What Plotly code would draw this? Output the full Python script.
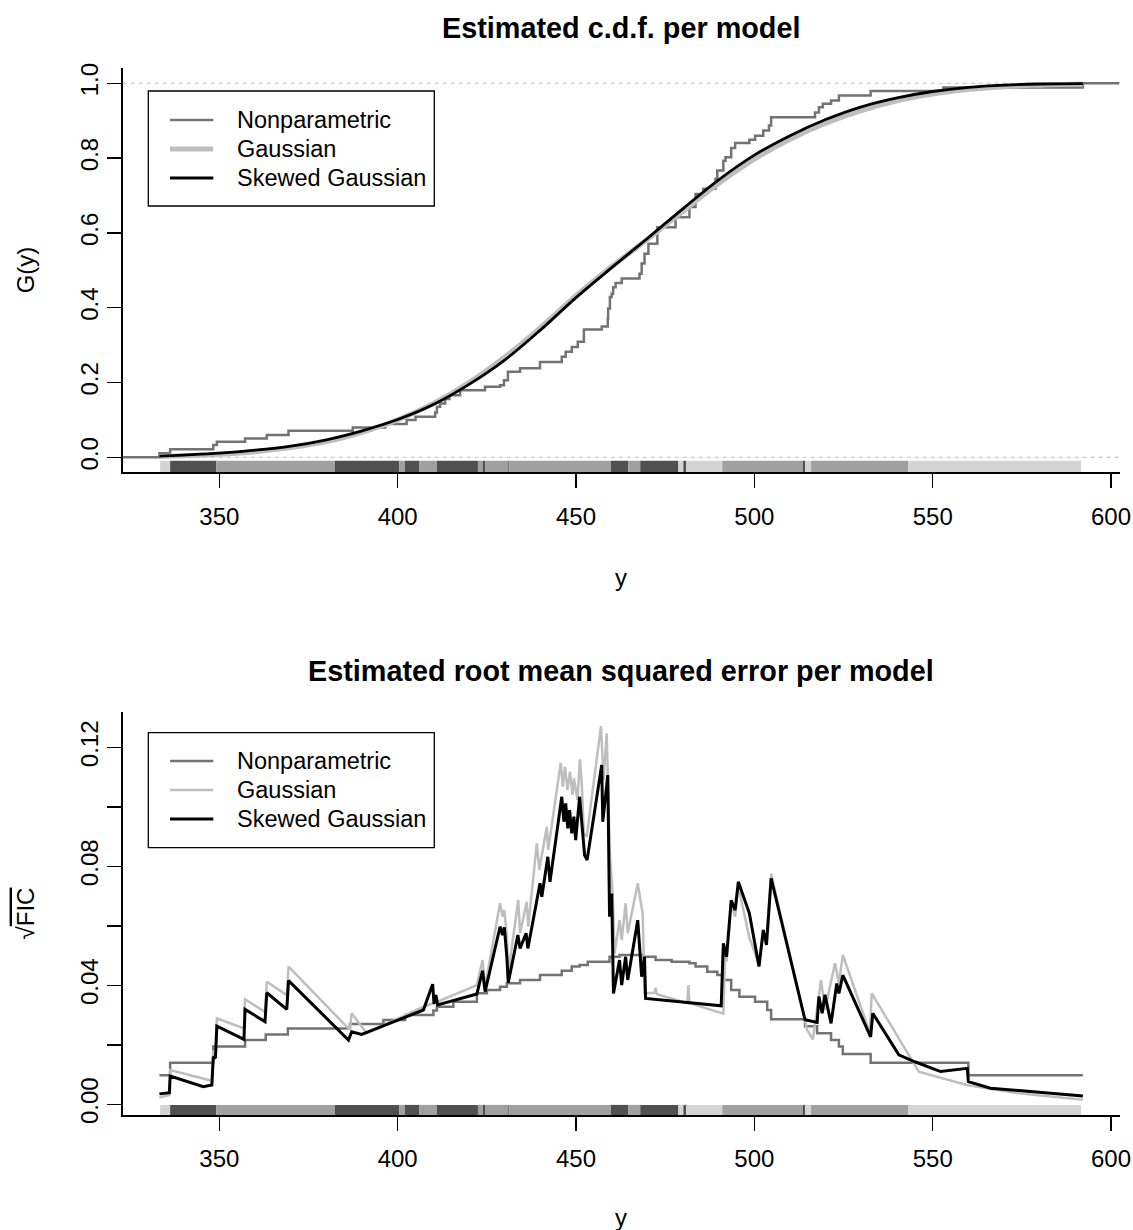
import plotly.graph_objects as go

# ---------------- data ----------------
# Top panel: estimated c.d.f. per model
cdf_y = [333.2, 340, 350, 360, 370, 380, 390, 400, 410, 420, 430, 440, 450, 460,
         470, 480, 490, 500, 510, 520, 530, 540, 550, 560, 570, 580, 592.1]
cdf_skew = [0.003, 0.006, 0.011, 0.019, 0.030, 0.047, 0.071, 0.101, 0.141, 0.195, 0.260,
            0.340, 0.427, 0.507, 0.585, 0.665, 0.742, 0.808, 0.860, 0.903, 0.937, 0.961,
            0.978, 0.989, 0.995, 0.998, 0.999]
cdf_gauss = [0.002, 0.004, 0.008, 0.015, 0.026, 0.042, 0.067, 0.100, 0.144, 0.200, 0.268,
             0.347, 0.432, 0.510, 0.583, 0.658, 0.732, 0.797, 0.850, 0.893, 0.927, 0.953,
             0.971, 0.983, 0.991, 0.995, 0.998]

ecdf_y = [322.9, 333.2, 336.2, 348.3, 349.3, 357.2, 363.3, 369.4, 387.4, 396.5, 402.5,
          405.0, 410.5, 411.0, 411.9, 413.3, 414.5, 417.5, 424.5, 428.7, 429.8, 430.9,
          434.3, 439.9, 446.0, 447.1, 448.8, 450.5, 452.2, 457.2, 458.9, 459.0, 459.5,
          460.0, 460.4, 461.1, 462.8, 467.8, 468.4, 469.2, 470.3, 472.8, 477.9, 481.8,
          483.5, 485.7, 489.1, 489.6, 491.3, 491.9, 493.5, 494.6, 498.6, 500.2, 502.5,
          504.1, 504.7, 517.0, 518.1, 519.2, 521.5, 523.7, 532.6, 553.0, 592.1, 602.4]
ecdf_g = [0.0, 0.0106, 0.0213, 0.0328, 0.0417, 0.0506, 0.0595, 0.0711, 0.0800, 0.0889, 0.0995,
          0.1084, 0.1200, 0.1351, 0.1440, 0.1560, 0.1663, 0.1796, 0.1885, 0.1930, 0.2060, 0.2285,
          0.2380, 0.2550, 0.2690, 0.2820, 0.2950, 0.3090, 0.3420, 0.3500, 0.3710, 0.3976, 0.4287,
          0.4376, 0.4550, 0.4660, 0.4780, 0.4910, 0.5180, 0.5440, 0.5710, 0.6150, 0.6420, 0.6690,
          0.7040, 0.7180, 0.7450, 0.7670, 0.7930, 0.8020, 0.8270, 0.8400, 0.8490, 0.8600, 0.8740,
          0.8870, 0.9090, 0.9220, 0.9360, 0.9450, 0.9540, 0.9670, 0.9790, 0.9890, 1.0, 1.0]

# Bottom panel: sqrt(FIC) per model
np_y = [333.2, 336.2, 348.3, 357.2, 363.0, 369.2, 386.6, 396.0, 402.1, 410.0, 411.0, 415.6,
        422.2, 425.0, 428.7, 430.6, 434.3, 439.9, 446.0, 448.8, 451.0, 453.3, 459.4, 462.2,
        468.9, 472.3, 476.8, 481.8, 483.5, 486.8, 489.6, 491.3, 493.5, 495.8, 500.2, 503.6,
        504.7, 514.2, 517.6, 521.5, 523.7, 524.8, 532.6, 560.0, 592.1]
np_v = [0.0098, 0.0140, 0.0194, 0.0216, 0.0235, 0.0255, 0.0270, 0.0283, 0.0300, 0.0315,
        0.0328, 0.0345, 0.0373, 0.0384, 0.0395, 0.0407, 0.0418, 0.0435, 0.0449, 0.0463,
        0.0468, 0.0479, 0.0496, 0.0502, 0.0496, 0.0485, 0.0479, 0.0474, 0.0463, 0.0446,
        0.0435, 0.0418, 0.0384, 0.0362, 0.0345, 0.0317, 0.0286, 0.0262, 0.0239, 0.0216,
        0.0194, 0.0169, 0.0140, 0.0098, 0.0098]

sk_y = [333.2, 336.0, 336.2, 345.5, 347.9, 348.3, 348.9, 349.3, 356.9, 357.2, 362.8, 363.3,
        368.9, 369.4, 386.2, 387.1, 389.9, 406.3, 407.2, 409.8, 410.2, 410.7, 411.2, 422.2,
        423.8, 424.5, 428.7, 429.4, 429.9, 430.6, 431.0, 433.7, 434.3, 436.0, 436.5, 439.9,
        440.4, 442.1, 442.7, 446.0, 446.6, 447.1, 447.7, 448.2, 448.8, 449.4, 449.9, 451.0,
        451.6, 452.4, 453.1, 457.2, 457.5, 458.9, 459.4, 460.0, 460.5, 462.2, 462.8, 463.9,
        464.5, 467.3, 468.4, 469.2, 469.5, 490.7, 491.3, 492.2, 493.5, 494.6, 495.5, 498.6,
        501.3, 502.5, 503.4, 504.7, 514.2, 517.6, 518.1, 519.0, 519.8, 521.5, 523.1, 523.7,
        524.8, 532.6, 533.2, 540.5, 545.0, 552.2, 559.7, 560.0, 566.2, 592.1]
sk_v = [0.0035, 0.0039, 0.0095, 0.0059, 0.0065, 0.0160, 0.0155, 0.0263, 0.0218, 0.0319,
        0.0278, 0.0375, 0.0319, 0.0416, 0.0216, 0.0244, 0.0235, 0.0315, 0.0317, 0.0404,
        0.0337, 0.0367, 0.0334, 0.0371, 0.0449, 0.0379, 0.0597, 0.0569, 0.0595, 0.0496,
        0.0409, 0.0569, 0.0524, 0.0575, 0.0524, 0.0743, 0.0698, 0.0832, 0.0748, 0.1034,
        0.0950, 0.1012, 0.0928, 0.0989, 0.0911, 0.0967, 0.0888, 0.1034, 0.0944, 0.0838,
        0.0821, 0.1141, 0.0950, 0.1107, 0.0631, 0.0709, 0.0373, 0.0485, 0.0401, 0.0496,
        0.0418, 0.0619, 0.0429, 0.0496, 0.0356, 0.0331, 0.0541, 0.0496, 0.0686, 0.0653,
        0.0748, 0.0642, 0.0463, 0.0586, 0.0536, 0.0760, 0.0284, 0.0275, 0.0362, 0.0306,
        0.0368, 0.0272, 0.0406, 0.0373, 0.0434, 0.0227, 0.0306, 0.0166, 0.0143, 0.0110,
        0.0121, 0.0076, 0.0054, 0.0028]

ga_y = [333.2, 336.0, 336.2, 347.9, 348.3, 348.9, 349.3, 356.9, 357.2, 362.8, 363.3, 368.9,
        369.4, 386.6, 387.1, 391.3, 406.3, 409.8, 410.5, 411.2, 422.2, 423.8, 424.5, 428.7,
        429.4, 429.9, 430.6, 431.0, 433.8, 434.3, 436.2, 436.6, 439.0, 439.7, 441.8, 442.2,
        445.7, 446.3, 446.9, 447.6, 448.3, 449.0, 449.4, 450.4, 451.1, 451.6, 452.2, 453.0,
        457.0, 457.7, 458.6, 459.5, 460.3, 460.8, 462.2, 462.8, 463.9, 464.5, 467.3, 468.0,
        468.7, 469.2, 472.0, 472.3, 472.7, 481.2, 481.5, 481.8, 491.3, 491.8, 492.2, 493.5,
        494.6, 495.5, 498.6, 501.3, 502.5, 503.4, 504.7, 514.8, 516.4, 518.7, 519.8, 522.6,
        523.7, 524.8, 532.4, 532.9, 546.1, 559.5, 574.0, 592.1]
ga_v = [0.0023, 0.0031, 0.0115, 0.0079, 0.0180, 0.0175, 0.0289, 0.0255, 0.0353, 0.0311,
        0.0412, 0.0367, 0.0463, 0.0250, 0.0306, 0.0239, 0.0323, 0.0340, 0.0355, 0.0345,
        0.0401, 0.0485, 0.0395, 0.0676, 0.0631, 0.0653, 0.0564, 0.0440, 0.0687, 0.0575,
        0.0681, 0.0597, 0.0877, 0.0788, 0.0933, 0.0855, 0.1148, 0.1068, 0.1135, 0.1057,
        0.1118, 0.1040, 0.1096, 0.1023, 0.1160, 0.1079, 0.0911, 0.0900, 0.1272, 0.1090,
        0.1247, 0.0838, 0.0700, 0.0507, 0.0619, 0.0552, 0.0676, 0.0575, 0.0743, 0.0687,
        0.0640, 0.0373, 0.0375, 0.0392, 0.0370, 0.0340, 0.0401, 0.0340, 0.0305, 0.0507,
        0.0480, 0.0676, 0.0631, 0.0732, 0.0560, 0.0470, 0.0575, 0.0552, 0.0776, 0.0250,
        0.0218, 0.0418, 0.0317, 0.0474, 0.0407, 0.0502, 0.0240, 0.0373, 0.0110, 0.0065,
        0.0037, 0.0015]

# Rug strip: which model is best (0 = Nonparametric, 1 = Gaussian, 2 = Skewed Gaussian)
strip_breaks = [333.4, 336.2, 349.1, 382.4, 400.4, 402.0, 406.0, 411.0, 422.5, 423.9, 424.5,
                431.0, 431.3, 459.8, 464.6, 468.0, 478.7, 480.1, 480.9, 491.0, 513.6, 514.2,
                515.9, 543.1, 591.6]
strip_model = [1, 2, 0, 2, 0, 2, 0, 2, 0, 2, 0, 2, 0, 2, 0, 2, 1, 2, 1, 0, 2, 1, 0, 1]

model_names = ["Nonparametric", "Gaussian", "Skewed Gaussian"]
x_ticks = [350, 400, 450, 500, 550, 600]
top_ticks = [0.0, 0.2, 0.4, 0.6, 0.8, 1.0]
top_ticktext = ["0.0", "0.2", "0.4", "0.6", "0.8", "1.0"]
bot_ticks = [0.0, 0.02, 0.04, 0.06, 0.08, 0.10, 0.12]
bot_ticktext = ["0.00", "", "0.04", "", "0.08", "", "0.12"]

# ---------------- styling ----------------
W, H = 1133, 1230
FONT = "Liberation Sans, Arial, Helvetica, sans-serif"
line_col = ["#737373", "#BEBEBE", "#000000"]
strip_col = ["#A0A0A0", "#D4D4D4", "#505050"]


def px(x):
    return x / W


def py(y):
    return 1 - y / H


fig = go.Figure()

# top panel traces
fig.add_trace(go.Scatter(x=ecdf_y, y=ecdf_g, mode="lines", line=dict(color=line_col[0], width=2.5, shape="hv"),
                         xaxis="x", yaxis="y", name=model_names[0]))
fig.add_trace(go.Scatter(x=cdf_y, y=cdf_gauss, mode="lines", line=dict(color=line_col[1], width=5, shape="spline"),
                         xaxis="x", yaxis="y", name=model_names[1]))
fig.add_trace(go.Scatter(x=cdf_y, y=cdf_skew, mode="lines", line=dict(color=line_col[2], width=2.8, shape="spline"),
                         xaxis="x", yaxis="y", name=model_names[2]))

# bottom panel traces
fig.add_trace(go.Scatter(x=np_y, y=np_v, mode="lines", line=dict(color=line_col[0], width=2.5, shape="hv"),
                         xaxis="x2", yaxis="y2", name=model_names[0]))
fig.add_trace(go.Scatter(x=ga_y, y=ga_v, mode="lines", line=dict(color=line_col[1], width=2.5),
                         xaxis="x2", yaxis="y2", name=model_names[1]))
fig.add_trace(go.Scatter(x=sk_y, y=sk_v, mode="lines", line=dict(color=line_col[2], width=3),
                         xaxis="x2", yaxis="y2", name=model_names[2]))

shapes = []
# dashed reference lines in the top panel
for lev in (0.0, 1.0):
    shapes.append(dict(type="line", xref="x domain", yref="y", x0=0, x1=1, y0=lev, y1=lev,
                       line=dict(color="#BEBEBE", width=1, dash="4px,4px"), layer="below"))

# rug strips
for xr, yr, y0, y1 in (("x", "y", -0.04, -0.009), ("x2", "y2", -0.0036, -0.0002)):
    for i, m in enumerate(strip_model):
        shapes.append(dict(type="rect", xref=xr, yref=yr, x0=strip_breaks[i], x1=strip_breaks[i + 1],
                           y0=y0, y1=y1, fillcolor=strip_col[m], line=dict(width=0), layer="below"))

annotations = []
# legends
legend_specs = [
    (91, 206, [120, 149, 178], [2.5, 5, 2.8]),
    (732.7, 847.7, [761, 790, 819], [2.5, 2.5, 3]),
]
for top, bot, rows, widths in legend_specs:
    shapes.append(dict(type="rect", xref="paper", yref="paper", x0=px(148.3), x1=px(434.3),
                       y0=py(bot), y1=py(top), line=dict(color="black", width=1.3),
                       fillcolor="white", layer="above"))
    for k in range(3):
        shapes.append(dict(type="line", xref="paper", yref="paper", x0=px(170), x1=px(213.3),
                           y0=py(rows[k]), y1=py(rows[k]),
                           line=dict(color=line_col[k], width=widths[k]), layer="above"))
        annotations.append(dict(xref="paper", yref="paper", x=px(235), y=py(rows[k]), text=model_names[k],
                                showarrow=False, xanchor="left", yanchor="middle",
                                font=dict(family=FONT, size=23.5, color="black")))

# titles
annotations.append(dict(xref="paper", yref="paper", x=px(621), y=py(28), text="<b>Estimated c.d.f. per model</b>",
                        showarrow=False, xanchor="center", yanchor="middle",
                        font=dict(family=FONT, size=28.8, color="black")))
annotations.append(dict(xref="paper", yref="paper", x=px(621), y=py(671),
                        text="<b>Estimated root mean squared error per model</b>",
                        showarrow=False, xanchor="center", yanchor="middle",
                        font=dict(family=FONT, size=28.8, color="black")))
# axis titles
for yc in (577, 1217):
    annotations.append(dict(xref="paper", yref="paper", x=px(621), y=py(yc), text="y",
                            showarrow=False, xanchor="center", yanchor="middle",
                            font=dict(family=FONT, size=24, color="black")))
annotations.append(dict(xref="paper", yref="paper", x=px(25), y=py(270.3), text="G(y)", textangle=-90,
                        showarrow=False, xanchor="center", yanchor="middle",
                        font=dict(family=FONT, size=24, color="black")))
annotations.append(dict(xref="paper", yref="paper", x=px(25), y=py(913.4),
                        text="√<span style='text-decoration:overline'>FIC</span>", textangle=-90,
                        showarrow=False, xanchor="center", yanchor="middle",
                        font=dict(family=FONT, size=24, color="black")))

axis_common = dict(showgrid=False, zeroline=False, showline=True, linecolor="black", linewidth=1.5,
                   ticks="outside", ticklen=14, tickwidth=1.5, tickcolor="black",
                   tickfont=dict(family=FONT, size=24, color="black"), automargin=False, fixedrange=True)

xdom = [px(122.7), px(1119.6)]
fig.update_layout(
    width=W, height=H, margin=dict(l=0, r=0, t=0, b=0),
    paper_bgcolor="white", plot_bgcolor="white", showlegend=False,
    xaxis=dict(domain=xdom, range=[322.9, 602.4], anchor="y", tickvals=x_ticks,
               ticklabelstandoff=8, **axis_common),
    yaxis=dict(domain=[py(472.3), py(68.3)], range=[-0.04, 1.04], anchor="x",
               tickvals=top_ticks, ticktext=top_ticktext, tickangle=-90, **axis_common),
    xaxis2=dict(domain=xdom, range=[322.9, 602.4], anchor="y2", tickvals=x_ticks,
                ticklabelstandoff=8, **axis_common),
    yaxis2=dict(domain=[py(1115), py(711.7)], range=[-0.0036, 0.1320], anchor="x2",
                tickvals=bot_ticks, ticktext=bot_ticktext, tickangle=-90, **axis_common),
    shapes=shapes, annotations=annotations,
)

fig.write_html(
    "out.html",
    config={"displayModeBar": False, "staticPlot": True},
    post_script="document.body.style.margin='0';document.body.style.overflow='hidden';",
)
